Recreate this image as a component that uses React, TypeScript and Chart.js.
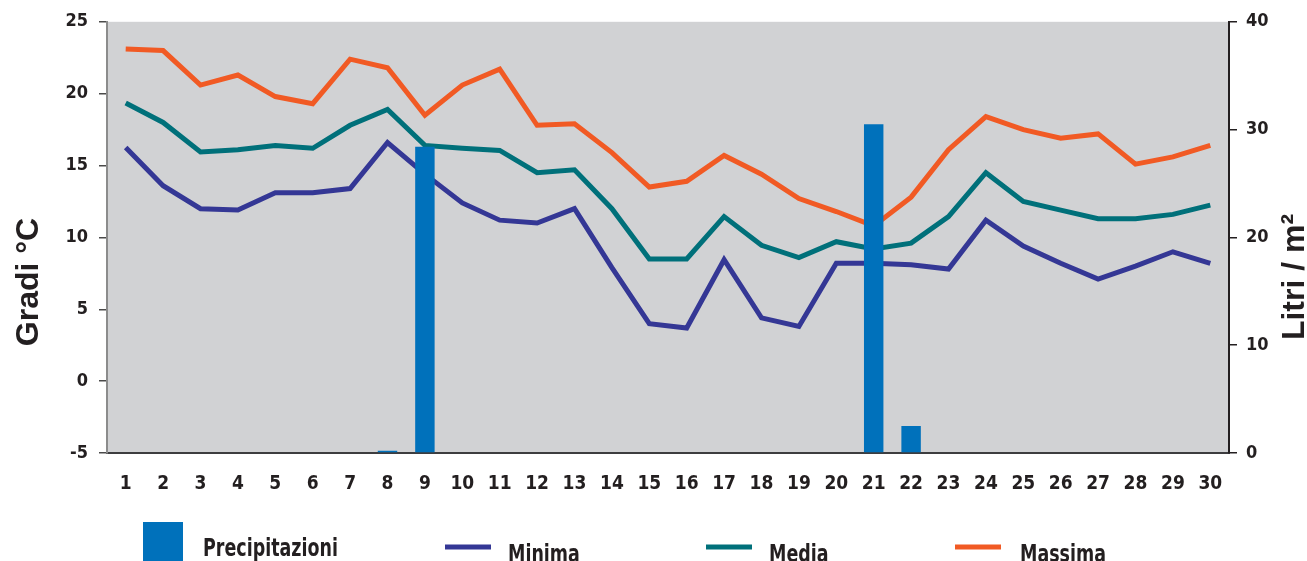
import React, { useEffect, useRef } from "react";
import { Chart, registerables } from "chart.js";

Chart.register(...registerables);

const days = ["1","2","3","4","5","6","7","8","9","10","11","12","13","14","15","16","17","18","19","20","21","22","23","24","25","26","27","28","29","30"];
const minima = [16.25, 13.6, 12.0, 11.9, 13.1, 13.1, 13.4, 16.6, 14.4, 12.4, 11.2, 11.0, 12.0, 7.9, 4.0, 3.7, 8.45, 4.4, 3.8, 8.2, 8.2, 8.1, 7.8, 11.2, 9.4, 8.2, 7.1, 8.0, 9.0, 8.2];
const media = [19.35, 18.0, 15.95, 16.1, 16.4, 16.2, 17.8, 18.9, 16.4, 16.2, 16.05, 14.5, 14.7, 12.0, 8.5, 8.5, 11.45, 9.45, 8.6, 9.7, 9.2, 9.6, 11.45, 14.5, 12.5, 11.9, 11.3, 11.3, 11.6, 12.25];
const massima = [23.1, 23.0, 20.6, 21.3, 19.8, 19.3, 22.4, 21.8, 18.5, 20.6, 21.7, 17.8, 17.9, 15.9, 13.5, 13.9, 15.7, 14.4, 12.7, 11.8, 10.8, 12.8, 16.1, 18.4, 17.5, 16.9, 17.2, 15.1, 15.6, 16.4];
const precipitazioni = [0, 0, 0, 0, 0, 0, 0, 0.2, 28.4, 0, 0, 0, 0, 0, 0, 0, 0, 0, 0, 0, 30.5, 2.5, 0, 0, 0, 0, 0, 0, 0, 0];

const leftTitle = "Gradi °C";
const rightTitle = "Litri / m²";

const C_BAR = "#0071bb";
const C_MIN = "#343795";
const C_MED = "#00707a";
const C_MAX = "#f15a24";
const C_TEXT = "#231f20";
const NARROW = "'Liberation Sans Narrow', 'DejaVu Sans Condensed', 'Roboto Condensed', sans-serif";

const decor = {
  id: "decor",
  beforeDraw(chart: any) {
    const { ctx, chartArea } = chart;
    ctx.save();
    ctx.fillStyle = "#d1d2d4";
    ctx.fillRect(chartArea.left, chartArea.top, chartArea.right - chartArea.left, chartArea.bottom - chartArea.top);
    ctx.restore();
  },
  afterDraw(chart: any) {
    const { ctx } = chart;
    ctx.save();
    ctx.fillStyle = C_TEXT;
    ctx.font = "bold 32px 'Liberation Sans', Arial, sans-serif";
    ctx.textAlign = "center";
    ctx.textBaseline = "alphabetic";
    ctx.save();
    ctx.translate(38, 282);
    ctx.rotate(-Math.PI / 2);
    ctx.fillText(leftTitle, 0, 0);
    ctx.restore();
    ctx.save();
    ctx.translate(1304, 277);
    ctx.rotate(-Math.PI / 2);
    ctx.fillText(rightTitle, 0, 0);
    ctx.restore();

    // legend
    ctx.font = `bold 24px ${NARROW}`;
    ctx.textAlign = "left";
    ctx.fillStyle = C_BAR;
    ctx.fillRect(143, 522, 40, 39);
    const drawText = (t: string, x: number, y: number) => {
      ctx.save();
      ctx.translate(x, y);
      ctx.scale(0.81, 1);
      ctx.fillStyle = C_TEXT;
      ctx.fillText(t, 0, 0);
      ctx.restore();
    };
    drawText("Precipitazioni", 203, 556);
    const items = [
      { label: "Minima", color: C_MIN, sx: 445, tx: 508 },
      { label: "Media", color: C_MED, sx: 706, tx: 769 },
      { label: "Massima", color: C_MAX, sx: 955, tx: 1020 },
    ];
    for (const it of items) {
      ctx.fillStyle = it.color;
      ctx.fillRect(it.sx, 544.5, 46, 5);
      drawText(it.label, it.tx, 562);
    }
    ctx.restore();
  },
};

export default function App() {
  const ref = useRef<HTMLCanvasElement>(null);
  useEffect(() => {
    if (!ref.current) return;
    const chart = new Chart(ref.current, {
      type: "bar",
      data: {
        labels: days,
        datasets: [
          {
            type: "bar",
            label: "Precipitazioni",
            data: precipitazioni,
            backgroundColor: C_BAR,
            yAxisID: "y1",
            barPercentage: 0.52,
            categoryPercentage: 1,
            order: 0,
          },
          {
            type: "line",
            label: "Minima",
            data: minima,
            borderColor: C_MIN,
            borderWidth: 5,
            pointRadius: 0,
            tension: 0,
            borderJoinStyle: "miter",
            yAxisID: "y",
            order: 1,
          },
          {
            type: "line",
            label: "Media",
            data: media,
            borderColor: C_MED,
            borderWidth: 5,
            pointRadius: 0,
            tension: 0,
            borderJoinStyle: "miter",
            yAxisID: "y",
            order: 2,
          },
          {
            type: "line",
            label: "Massima",
            data: massima,
            borderColor: C_MAX,
            borderWidth: 5,
            pointRadius: 0,
            tension: 0,
            borderJoinStyle: "miter",
            yAxisID: "y",
            order: 3,
          },
        ] as any,
      },
      options: {
        responsive: false,
        animation: false,
        layout: { padding: { top: 19, left: 0, right: 0, bottom: 0 } },
        plugins: { legend: { display: false }, tooltip: { enabled: false } },
        scales: {
          x: {
            type: "category",
            offset: true,
            grid: { display: false, drawTicks: false },
            border: { display: true, color: "#3d3d3f", width: 2 },
            ticks: { color: C_TEXT, font: { family: NARROW, weight: "bold", size: 19 }, padding: 20, maxRotation: 0, autoSkip: false },
            afterFit: (s: any) => { s.height = 108; },
          },
          y: {
            position: "left",
            min: -5,
            max: 25,
            ticks: { stepSize: 5, color: C_TEXT, font: { family: NARROW, weight: "bold", size: 18 }, padding: 11 },
            grid: { drawOnChartArea: false, drawTicks: true, tickLength: 8, color: "#4a4a4a", lineWidth: 1.5 },
            border: { display: true, color: "#8c8c8c", width: 2 },
            afterFit: (s: any) => { s.width = 107; },
          },
          y1: {
            position: "right",
            min: 0,
            max: 40,
            ticks: { stepSize: 10, color: C_TEXT, font: { family: NARROW, weight: "bold", size: 18 }, padding: 9 },
            grid: { drawOnChartArea: false, drawTicks: true, tickLength: 8, color: "#231f20", lineWidth: 1.5 },
            border: { display: true, color: "#231f20", width: 2 },
            afterFit: (s: any) => { s.width = 78; },
          },
        },
      } as any,
      plugins: [decor],
    });
    return () => chart.destroy();
  }, []);
  return (
    <div style={{ position: "absolute", left: 0, top: 0, width: 1307, height: 561, background: "#fff" }}>
      <canvas ref={ref} width={1307} height={561} style={{ display: "block" }} />
    </div>
  );
}
